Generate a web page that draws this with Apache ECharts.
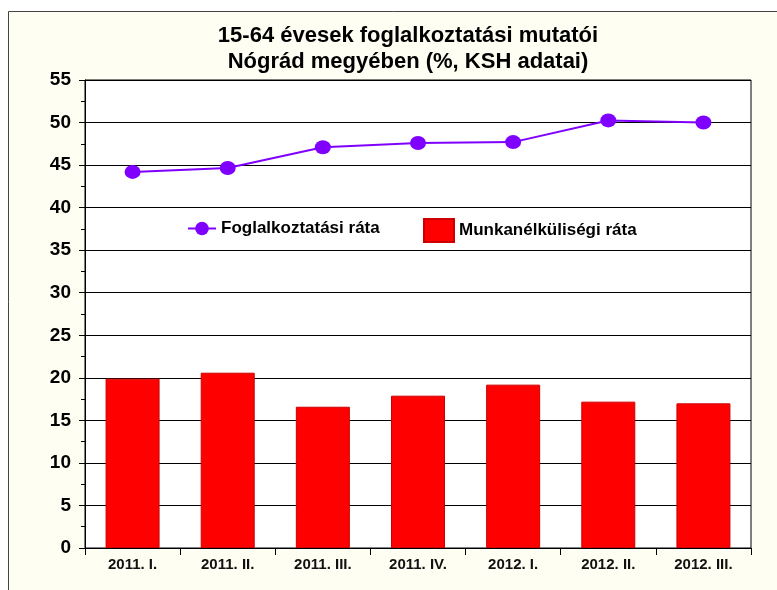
<!DOCTYPE html>
<html>
<head>
<meta charset="utf-8">
<script src="https://cdn.jsdelivr.net/npm/echarts@6/dist/echarts.min.js"></script>
<style>html,body{margin:0;padding:0;background:#fff}#c{width:777px;height:590px}</style>
</head>
<body>
<div id="c"></div>
<script>
const categories = ['2011. I.', '2011. II.', '2011. III.', '2011. IV.', '2012. I.', '2012. II.', '2012. III.'];
const employmentRate = [44.2, 44.65, 47.1, 47.6, 47.7, 50.25, 50.0];
const unemploymentRate = [19.9, 20.6, 16.6, 17.9, 19.2, 17.2, 17.0];
const titleText = '15-64 évesek foglalkoztatási mutatói\nNógrád megyében (%, KSH adatai)';
const seriesNames = ['Foglalkoztatási ráta', 'Munkanélküliségi ráta'];

const FONT = '"Liberation Sans", Arial, sans-serif';
const legendText = {fontFamily: FONT, fontSize: 17, fontWeight: 'bold', color: '#000'};
const chart = echarts.init(document.getElementById('c'), null, {renderer: 'canvas'});
chart.setOption({
  backgroundColor: '#ffffff',
  animation: false,
  graphic: [{
    type: 'rect', z: -10, silent: true,
    shape: {x: 8.5, y: 11.5, width: 800, height: 620},
    style: {fill: '#FEFEF2', stroke: '#444', lineWidth: 1}
  }],
  title: {
    text: titleText,
    left: 403, top: 18, textAlign: 'center',
    textStyle: {fontFamily: FONT, fontSize: 22, fontWeight: 'bold', color: '#000', lineHeight: 26}
  },
  legend: [
    {
      left: 182, top: 215,
      itemWidth: 28, itemHeight: 17,
      textStyle: legendText,
      data: [seriesNames[0]]
    },
    {
      left: 418, top: 213,
      itemWidth: 30, itemHeight: 23,
      textStyle: legendText,
      data: [{name: seriesNames[1], icon: 'rect'}]
    }
  ],
  grid: {
    left: 85, right: 26, top: 80, bottom: 42,
    show: true, backgroundColor: '#ffffff', borderColor: '#000', borderWidth: 1
  },
  xAxis: {
    type: 'category', data: categories, boundaryGap: true,
    axisLine: {show: true, lineStyle: {color: '#000', width: 1}},
    axisTick: {show: true, length: 7, lineStyle: {color: '#000'}},
    axisLabel: {fontFamily: FONT, fontSize: 15, fontWeight: 'bold', color: '#111', margin: 9}
  },
  yAxis: {
    type: 'value', min: 0, max: 55, interval: 5,
    axisLine: {show: true, lineStyle: {color: '#000', width: 1}},
    axisTick: {show: true, length: 6, lineStyle: {color: '#000'}},
    minorTick: {show: true, splitNumber: 2, length: 4, lineStyle: {color: '#000'}},
    splitLine: {show: true, lineStyle: {color: '#000', width: 1}},
    axisLabel: {fontFamily: FONT, fontSize: 19, fontWeight: 'bold', color: '#000', margin: 14}
  },
  series: [
    {
      name: seriesNames[0], type: 'line', data: employmentRate,
      symbol: 'circle', symbolSize: [16, 14],
      itemStyle: {color: '#8000FF'},
      lineStyle: {color: '#8000FF', width: 2},
      z: 5
    },
    {
      name: seriesNames[1], type: 'bar', data: unemploymentRate,
      barWidth: 54,
      itemStyle: {color: '#FF0000', borderColor: '#CC0000', borderWidth: 1}
    }
  ]
});
</script>
</body>
</html>
